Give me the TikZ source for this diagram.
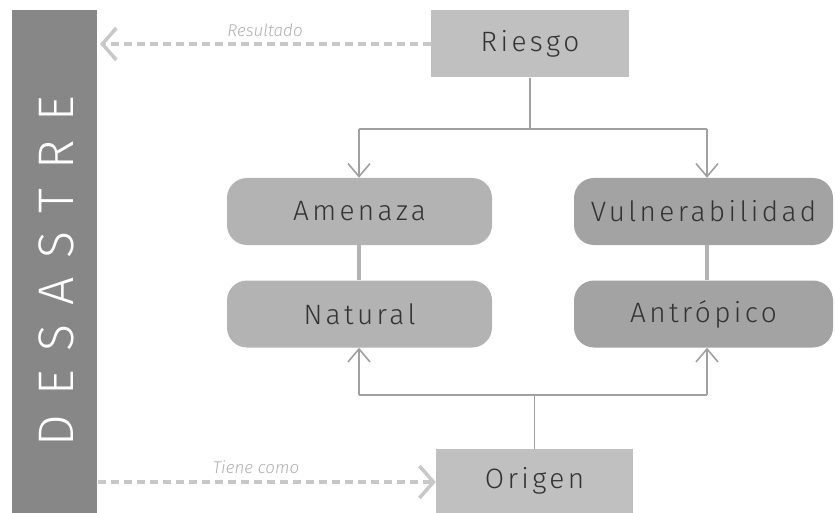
\documentclass[tikz,border=0pt]{standalone}
\usepackage{fontspec}
\setmainfont{Fira Sans}
\newfontfamily\boxfont[LetterSpace=12]{Fira Sans Light}
\newfontfamily\barfont[LetterSpace=38]{Fira Sans Light}
\newfontfamily\labfont{Fira Sans Light}
\usetikzlibrary{arrows.meta}
\definecolor{barcol}{HTML}{878787}
\definecolor{sqcol}{HTML}{C0C0C0}
\definecolor{lcol}{HTML}{B3B3B3}
\definecolor{rcol}{HTML}{A3A3A3}
\definecolor{linecol}{HTML}{A0A0A0}
\definecolor{dashcol}{HTML}{C8C8C8}
\definecolor{txtcol}{HTML}{333333}
\definecolor{labcol}{HTML}{B0B0B0}
\tikzset{
  sqbox/.style={fill=sqcol, minimum width=198pt, minimum height=67pt, inner sep=0pt, font=\boxfont\fontsize{28}{32}\selectfont, text=txtcol},
  rbox/.style={rounded corners=20pt, minimum height=67pt, inner sep=0pt, font=\boxfont\fontsize{28}{32}\selectfont, text=txtcol},
  conn/.style={draw=linecol, line width=1.6pt},
  arr/.style={conn, -{Straight Barb[length=13pt,width=22pt,line width=1.6pt]}},
  dasharr/.style={draw=dashcol, line width=3.5pt, dash pattern=on 8pt off 5pt, -{Straight Barb[length=14pt,width=32pt,line width=3.5pt]}},
  lab/.style={text=labcol, font=\labfont\itshape\fontsize{17}{20}\selectfont},
  link/.style={draw=lcol, line width=4.5pt}
}
\begin{document}
\begin{tikzpicture}[x=1pt,y=-1pt]
\useasboundingbox (0,0) rectangle (835,513);
\fill[white] (0,0) rectangle (835,513);
\node[fill=barcol, minimum width=85pt, minimum height=503pt, inner sep=0pt, anchor=north west] (bar) at (12,10) {};
\node[rotate=90, text=white, font=\barfont\fontsize{50}{54}\selectfont] (des) at (56,271) {DESASTRE};
\node[sqbox] (riesgo) at (530,44) {Riesgo};
\node[sqbox, minimum height=64pt, minimum width=197pt] (origen) at (534.5,481) {Origen};
\node[rbox, fill=lcol, minimum width=265pt] (amen) at (359.5,211.5) {Amenaza};
\node[rbox, fill=lcol, minimum width=265pt] (nat) at (359.5,314) {Natural};
\node[rbox, fill=rcol, minimum width=259pt] (vul) at (703.5,211.5) {Vulnerabilidad};
\node[rbox, fill=rcol, minimum width=259pt] (ant) at (703.5,314) {Antrópico};
\coordinate (tl) at (359,129);
\coordinate (tr) at (707,129);
\coordinate (bl) at (359,395);
\coordinate (br) at (707,395);
\draw[conn] (riesgo.south) -- (riesgo.south |- tl);
\draw[conn] (tl) -- (tr);
\draw[arr] (tl) -- (tl |- amen.north);
\draw[arr] (tr) -- (tr |- vul.north);
\draw[link] (tl |- amen.south) -- (tl |- nat.north);
\draw[link] (tr |- vul.south) -- (tr |- ant.north);
\draw[conn] (origen.north) -- (origen.north |- bl);
\draw[conn] (bl) -- (br);
\draw[arr] (bl) -- (bl |- nat.south);
\draw[arr] (br) -- (br |- ant.south);
\coordinate (res) at (100,44);
\coordinate (tie) at (98,482);
\draw[dasharr] (riesgo.west) -- (res);
\draw[dasharr] (tie) -- (tie -| origen.west);
\node[lab] (lres) at (265,30) {Resultado};
\node[lab] (ltie) at (256,467) {Tiene como};
\end{tikzpicture}
\end{document}
